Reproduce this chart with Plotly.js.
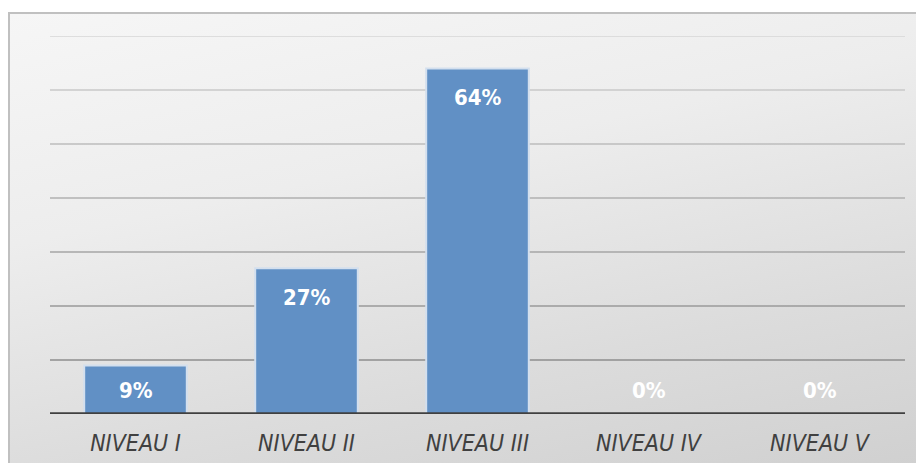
<!DOCTYPE html>
<html>
<head>
<meta charset="utf-8">
<script src="https://cdn.plot.ly/plotly-3.0.1.min.js"></script>
<style>
  html, body { margin: 0; padding: 0; width: 916px; height: 463px; overflow: hidden; background: #ffffff; }
  #bg { position: absolute; left: 8px; top: 12px; width: 920px; height: 470px; box-sizing: border-box;
        border: 2px solid #c0c0c0;
        background: linear-gradient(168deg, #f6f6f6 0%, #ededed 35%, #dcdcdc 70%, #cfcfcf 100%); }
  #chart { position: absolute; left: 0; top: 0; width: 916px; height: 463px; }
</style>
</head>
<body>
<div id="bg"></div>
<div id="chart"></div>
<script>
const categories = ["NIVEAU I", "NIVEAU II", "NIVEAU III", "NIVEAU IV", "NIVEAU V"];
const values = [9, 27, 64, 0, 0];
const labels = ["9%", "27%", "64%", "0%", "0%"];
const gridTicks = [10, 20, 30, 40, 50, 60, 70];
const gridColors = ["#8e8e8e", "#9a9a9a", "#a6a6a6", "#b0b0b0", "#bcbcbc", "#c9c9c9", "#d6d6d6"];

const fontFam = "Liberation Sans Narrow, Arial Narrow, DejaVu Sans Condensed, sans-serif";
const labelFont = { family: fontFam, size: 22, color: "#ffffff", weight: "bold" };

const annotations = values.map((v, i) => ({
  x: categories[i], y: Math.max(v - 5.4, 4.4), xref: "x", yref: "y",
  text: "<b>" + labels[i] + "</b>", showarrow: false, font: labelFont,
  xanchor: "center", yanchor: "middle"
}));

const shapes = gridTicks.map((t, i) => ({
  type: "line", xref: "paper", yref: "y", x0: 0, x1: 1, y0: t, y1: t,
  line: { color: gridColors[i], width: 1.5 }, layer: "below"
}));
shapes.push({ type: "line", xref: "paper", yref: "y", x0: 0, x1: 1, y0: 0, y1: 0,
  line: { color: "#404040", width: 3.5 }, layer: "above" });

const trace = {
  type: "bar", x: categories, y: values, width: 0.6,
  marker: { color: "#6190c5", line: { color: "#d3dfee", width: 2 } },
  hoverinfo: "none"
};

const layout = {
  width: 916, height: 463,
  margin: { l: 50, r: 11, t: 36, b: 49 },
  paper_bgcolor: "rgba(0,0,0,0)", plot_bgcolor: "rgba(0,0,0,0)",
  showlegend: false,
  xaxis: {
    type: "category", showgrid: false, zeroline: false, showline: false,
    ticks: "outside", ticklen: 8, tickcolor: "rgba(0,0,0,0)",
    tickfont: { family: fontFam, size: 23, color: "#404040", style: "italic" }
  },
  yaxis: { range: [0, 70], showgrid: false, zeroline: false, showticklabels: false, showline: false, ticks: "" },
  shapes: shapes,
  annotations: annotations,
  bargap: 0.4
};

Plotly.newPlot("chart", [trace], layout, { displayModeBar: false, staticPlot: true });
</script>
</body>
</html>
